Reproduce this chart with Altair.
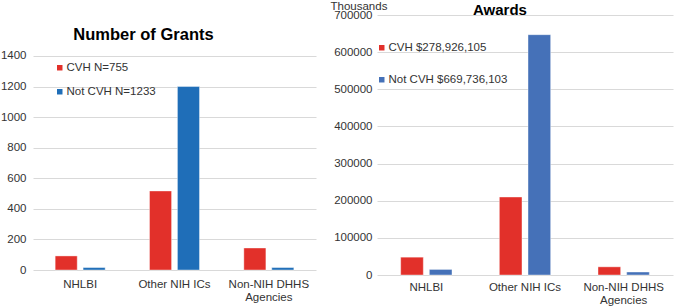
import altair as alt
import pandas as pd

categories = ["NHLBI", "Other NIH ICs", "Non-NIH DHHS Agencies"]

grant_series = ["CVH N=755", "Not CVH N=1233"]
grants_cvh = [92, 517, 144]
grants_not_cvh = [16, 1200, 16]
grant_ticks = [0, 200, 400, 600, 800, 1000, 1200, 1400]

award_series = ["CVH $278,926,105", "Not CVH $669,736,103"]
awards_cvh = [48000, 210000, 22000]
awards_not_cvh = [15000, 647000, 8000]
award_ticks = [0, 100000, 200000, 300000, 400000, 500000, 600000, 700000]

RED = "#E2302A"
BLUE_L = "#1F6EB8"
BLUE_R = "#4571B8"
FONT = "Liberation Sans"
TXT = "#333333"

rows_g = []
for i, c in enumerate(categories):
    rows_g.append({"category": c, "series": grant_series[0], "value": grants_cvh[i]})
    rows_g.append({"category": c, "series": grant_series[1], "value": grants_not_cvh[i]})
df_g = pd.DataFrame(rows_g)

rows_a = []
for i, c in enumerate(categories):
    rows_a.append({"category": c, "aseries": award_series[0], "value": awards_cvh[i]})
    rows_a.append({"category": c, "aseries": award_series[1], "value": awards_not_cvh[i]})
df_a = pd.DataFrame(rows_a)

label_expr = "datum.label == 'Non-NIH DHHS Agencies' ? ['Non-NIH DHHS', 'Agencies'] : datum.label"


def x_axis(pad):
    return alt.Axis(title=None, labelAngle=0, labelExpr=label_expr, labelPadding=pad,
                    labelLineHeight=13, domain=False, ticks=False, labelFontSize=11.5,
                    labelColor=TXT, labelFont=FONT, grid=False)


left = alt.Chart(df_g).mark_bar(stroke="white", strokeWidth=0.8, strokeOpacity=0.5).encode(
    x=alt.X("category:N", sort=categories,
            scale=alt.Scale(paddingInner=0.47, paddingOuter=0.235),
            axis=x_axis(8)),
    xOffset=alt.XOffset("series:N", sort=grant_series,
                        scale=alt.Scale(paddingInner=0.21, paddingOuter=0)),
    y=alt.Y("value:Q", scale=alt.Scale(domain=[0, 1668], nice=False),
            axis=alt.Axis(values=grant_ticks, format="d", title=None, domain=False, ticks=False,
                          gridColor="#D9D9D9", labelPadding=7, labelFontSize=11.5,
                          labelColor=TXT, labelFont=FONT)),
    color=alt.Color("series:N", sort=grant_series,
                    scale=alt.Scale(domain=grant_series, range=[RED, BLUE_L]),
                    legend=alt.Legend(orient="none", legendX=21, legendY=47, title=None,
                                      symbolType="square", symbolSize=30, symbolStrokeWidth=0,
                                      labelFontSize=11.5, labelFont=FONT, labelColor=TXT,
                                      labelOffset=1, rowPadding=11, padding=0)),
).properties(
    width=283, height=255,
    title=alt.TitleParams("Number of Grants", font=FONT, fontSize=16.5, fontWeight="bold",
                          color="black", anchor="middle", dx=-31, offset=0, dy=41,
                          baseline="alphabetic"),
)

right = alt.Chart(df_a).mark_bar(stroke="white", strokeWidth=0.8, strokeOpacity=0.5).encode(
    x=alt.X("category:N", sort=categories,
            scale=alt.Scale(paddingInner=0.48, paddingOuter=0.24),
            axis=x_axis(6)),
    xOffset=alt.XOffset("aseries:N", sort=award_series,
                        scale=alt.Scale(paddingInner=0.21, paddingOuter=0)),
    y=alt.Y("value:Q", scale=alt.Scale(domain=[0, 700000], nice=False),
            axis=alt.Axis(values=award_ticks, format="d", title="Thousands", titleAngle=0,
                          titleX=-47, titleY=-5.5, titleAlign="left", titleBaseline="alphabetic",
                          titleFont=FONT, titleFontSize=11.5, titleFontWeight="normal",
                          titleColor=TXT, domain=False, ticks=False,
                          gridColor="#D9D9D9", labelPadding=5, labelFontSize=11.5,
                          labelColor=TXT, labelFont=FONT)),
    color=alt.Color("aseries:N", sort=award_series,
                    scale=alt.Scale(domain=award_series, range=[RED, BLUE_R]),
                    legend=alt.Legend(orient="none", legendX=-1, legendY=27, title=None,
                                      symbolType="square", symbolSize=30, symbolStrokeWidth=0,
                                      labelFontSize=11.5, labelFont=FONT, labelColor=TXT,
                                      labelOffset=1, rowPadding=19, padding=0)),
).properties(
    width=296, height=260,
    title=alt.TitleParams("Awards", font=FONT, fontSize=15, fontWeight="bold",
                          color="black", anchor="middle", dx=-25, offset=0, dy=29,
                          baseline="alphabetic"),
)

chart = alt.hconcat(left, right, spacing=14).resolve_scale(
    color="independent", x="independent", y="independent", xOffset="independent"
).resolve_legend(color="independent").properties(
    padding={"left": 0, "top": 0, "right": 7, "bottom": 0},
    background="white",
).configure_view(stroke=None)

chart.save("out.html", embed_options={"renderer": "svg", "actions": False})
